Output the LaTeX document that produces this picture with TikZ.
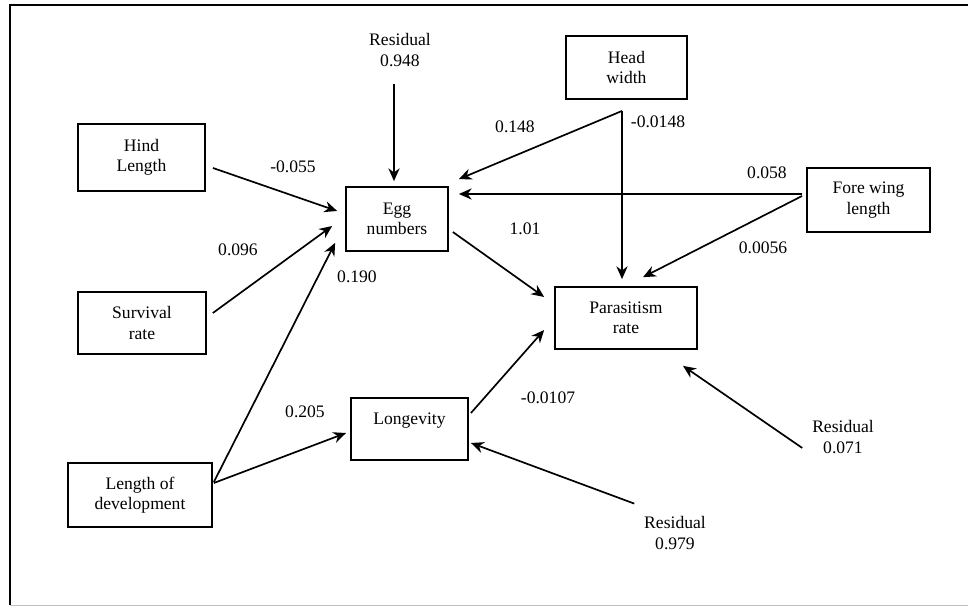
\documentclass[tikz,border=0pt]{standalone}
\usepackage{fontspec}
\setmainfont{Liberation Serif}
\usetikzlibrary{arrows.meta}

\begin{document}
\begin{tikzpicture}[x=0.025cm,y=-0.025cm,
	box/.style={draw,line width=1.2pt,align=center,font=\fontsize{12.5}{14.5}\selectfont},
	lab/.style={align=center,font=\fontsize{12.5}{14.5}\selectfont},
	arr/.style={-{Stealth[length=3.2mm,width=2.8mm]},line width=1.2pt}]
	\useasboundingbox (0,0) rectangle (968,609);
	
    % 外框
    \draw[line width=1.2pt] (968,5) -- (10,5) -- (10,605);
    \draw[black!25] (10,605) -- (968,605);
    
    % 变量方框
    \node [box,minimum width=3.18cm,minimum height=1.68cm] (hind) at (141.5,157.5) {Hind\\Length};
    \node [box,minimum width=3.2cm,minimum height=1.55cm] (surv) at (142,323) {Survival\\rate};
    \node [box,minimum width=3.6cm,minimum height=1.6cm] (lendev) at (140,495) {Length of\\development};
    \node [box,minimum width=2.55cm,minimum height=1.6cm] (egg) at (397,219) {Egg\\numbers};
    \node [box,minimum width=2.93cm,minimum height=1.55cm] (longev) at (409.5,429) {Longevity\\~};
    \node [box,minimum width=3.03cm,minimum height=1.58cm] (head) at (626.5,67.5) {Head\\width};
    \node [box,minimum width=3.08cm,minimum height=1.6cm] (fore) at (868.5,200) {Fore wing\\length};
    \node [box,minimum width=3.55cm,minimum height=1.55cm] (para) at (626,318) {Parasitism\\rate};
    
    % 残差
    \node [lab] (res1) at (400,50) {Residual\\0.948};
    \node [lab] (res2) at (675,533) {Residual\\0.979};
    \node [lab] (res3) at (843,437) {Residual\\0.071};
    
    % 箭头
    \draw[arr] ([shift={(-6,13)}]res1.south) -- ([shift={(-3,-5)}]egg.north);
    \draw[arr] ([shift={(7,10.5)}]hind.east) -- ([shift={(-8,-8)}]egg.west);
    \draw[arr] ([shift={(6,-10)}]surv.east) -- ([shift={(-13,7)}]egg.west);
    \draw[arr] ([shift={(1,-13)}]lendev.east) -- ([shift={(-10,-9)}]egg.south west);
    \draw[arr] ([shift={(1,-12)}]lendev.east) -- ([shift={(-4,4)}]longev.west);
    \draw[arr] ([shift={(-4.5,11)}]head.south) -- ([shift={(10,-7)}]egg.north east);
    \draw[arr] ([shift={(-4.5,11)}]head.south) -- ([shift={(-4,-7)}]para.north);
    \draw[arr] ([shift={(-4,-6)}]fore.west) -- ([shift={(10,-25)}]egg.east);
    \draw[arr] ([shift={(-4,-4)}]fore.west) -- ([shift={(17,-9)}]para.north);
    \draw[arr] ([shift={(4,13)}]egg.east) -- ([shift={(-10,-21)}]para.west);
    \draw[arr] ([shift={(2,-16)}]longev.east) -- ([shift={(-10,12)}]para.west);
    \draw[arr] ([shift={(-5,11)}]res3.west) -- ([shift={(57,16)}]para.south);
    \draw[arr] ([shift={(-5,-8)}]res2.north west) -- ([shift={(2,14)}]longev.east);
    
    % 路径系数
    \node [lab] (c1) at (293,167) {-0.055};
    \node [lab] (c2) at (238,250) {0.096};
    \node [lab] (c3) at (357,277) {0.190};
    \node [lab] (c4) at (305,412) {0.205};
    \node [lab] (c5) at (515,127) {0.148};
    \node [lab] (c6) at (658,122) {-0.0148};
    \node [lab] (c7) at (767,173) {0.058};
    \node [lab] (c8) at (525,229) {1.01};
    \node [lab] (c9) at (763,248) {0.0056};
    \node [lab] (c10) at (548,398) {-0.0107};
    
\end{tikzpicture}
\end{document}
